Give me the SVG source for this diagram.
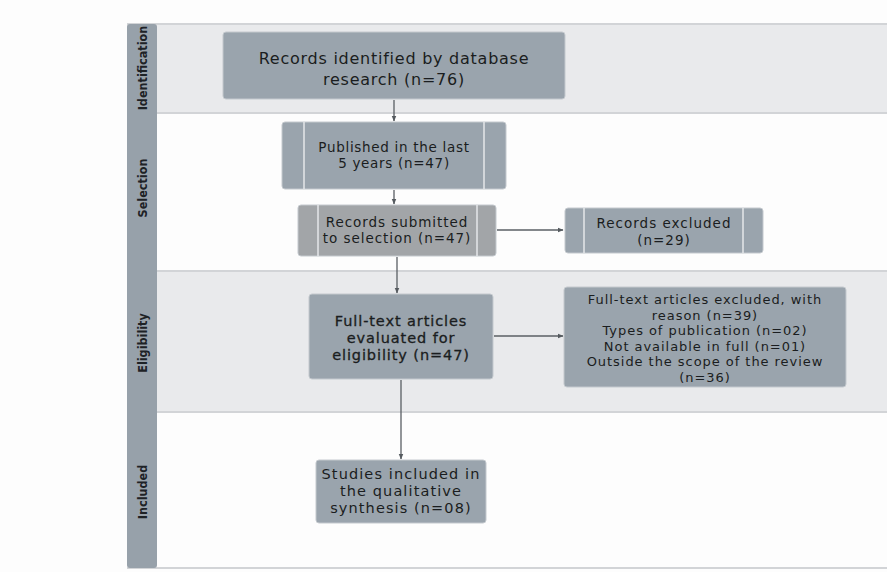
<svg xmlns="http://www.w3.org/2000/svg" width="887" height="572" viewBox="0 0 887 572">
<defs>
<marker id="ah" viewBox="0 0 10 10" refX="9" refY="5" markerWidth="6" markerHeight="6" orient="auto" markerUnits="userSpaceOnUse">
<path d="M0,1 L10,5 L0,9 z" fill="#555a5f"/>
</marker>
<style>
.lane-a{fill:#e9eaec}
.lane-b{fill:#fdfdfd}
.sep{stroke:#d2d4d7;stroke-width:2}
.lbl{font-family:"DejaVu Sans",sans-serif;font-weight:bold;font-stretch:condensed;font-size:12.5px;fill:#1e2226;text-anchor:middle}
.box{fill:#9aa4ad;stroke:#c4c9ce;stroke-width:1}
.boxg{fill:#a2a5a8;stroke:#c4c9ce;stroke-width:1}
.inner{stroke:#e4e7ea;stroke-width:1.5}
.t{font-family:"DejaVu Sans","Liberation Sans",sans-serif;fill:#1a1d20;text-anchor:middle}
.con{stroke:#5a5f64;stroke-width:1.3;fill:none;marker-end:url(#ah)}
</style>
</defs>
<rect width="887" height="572" fill="#fdfdfd"/>
<g id="lanes">
<rect x="127" y="24" width="760" height="89" class="lane-a"/>
<rect x="127" y="113" width="760" height="158" class="lane-b"/>
<rect x="127" y="271" width="760" height="141" class="lane-a"/>
<rect x="127" y="412" width="760" height="156" class="lane-b"/>
<line x1="127" y1="24" x2="887" y2="24" class="sep"/>
<line x1="157" y1="113" x2="887" y2="113" class="sep"/>
<line x1="157" y1="271" x2="887" y2="271" class="sep"/>
<line x1="157" y1="412" x2="887" y2="412" class="sep"/>
<line x1="127" y1="568" x2="887" y2="568" class="sep"/>
<rect x="127" y="24" width="30" height="544" rx="3" fill="#97a1aa"/>
<text class="lbl" transform="translate(146.5,68) rotate(-90)">Identification</text>
<text class="lbl" transform="translate(146.5,188) rotate(-90)">Selection</text>
<text class="lbl" transform="translate(146.5,343) rotate(-90)">Eligibility</text>
<text class="lbl" transform="translate(146.5,492) rotate(-90)">Included</text>
</g>
<g id="connectors">
<line x1="394" y1="100" x2="394" y2="121" class="con"/>
<line x1="394" y1="190" x2="394" y2="204" class="con"/>
<line x1="397" y1="257" x2="397" y2="293" class="con"/>
<line x1="497" y1="230" x2="563" y2="230" class="con"/>
<line x1="494" y1="336" x2="563" y2="336" class="con"/>
<line x1="401" y1="380" x2="401" y2="459" class="con"/>
</g>
<g id="n1">
<rect x="223" y="32" width="342" height="67" rx="3" class="box"/>
<text class="t" x="394" y="64" font-size="16" letter-spacing="0.75">Records identified by database</text>
<text class="t" x="394" y="85" font-size="16" letter-spacing="0.75">research (n=76)</text>
</g>
<g id="n2">
<rect x="282" y="122" width="224" height="67" rx="3" class="box"/>
<line x1="304" y1="122" x2="304" y2="189" class="inner"/>
<line x1="484" y1="122" x2="484" y2="189" class="inner"/>
<text class="t" x="394" y="152" font-size="13.5" letter-spacing="0.7">Published in the last</text>
<text class="t" x="394" y="168" font-size="13.5" letter-spacing="0.7">5 years (n=47)</text>
</g>
<g id="n3">
<rect x="298" y="205" width="198" height="51" rx="3" class="boxg"/>
<line x1="318" y1="205" x2="318" y2="256" class="inner"/>
<line x1="477" y1="205" x2="477" y2="256" class="inner"/>
<text class="t" x="397" y="227" font-size="13.5" letter-spacing="0.95">Records submitted</text>
<text class="t" x="397" y="243" font-size="13.5" letter-spacing="0.95">to selection (n=47)</text>
</g>
<g id="n4">
<rect x="565" y="208" width="198" height="45" rx="3" class="box"/>
<line x1="584" y1="208" x2="584" y2="253" class="inner"/>
<line x1="743" y1="208" x2="743" y2="253" class="inner"/>
<text class="t" x="664" y="228" font-size="13.5" letter-spacing="1">Records excluded</text>
<text class="t" x="664" y="245" font-size="13.5" letter-spacing="1">(n=29)</text>
</g>
<g id="n5">
<rect x="309" y="294" width="184" height="85" rx="3" class="box"/>
<text class="t" x="401" y="326" font-size="14.5" letter-spacing="0.9" stroke="#1a1d20" stroke-width="0.3">Full-text articles</text>
<text class="t" x="401" y="343" font-size="14.5" letter-spacing="0.9" stroke="#1a1d20" stroke-width="0.3">evaluated for</text>
<text class="t" x="401" y="360" font-size="14.5" letter-spacing="0.9" stroke="#1a1d20" stroke-width="0.3">eligibility (n=47)</text>
</g>
<g id="n6">
<rect x="564" y="287" width="282" height="100" rx="3" class="box"/>
<text class="t" x="705" y="304" font-size="13" letter-spacing="0.95">Full-text articles excluded, with</text>
<text class="t" x="705" y="319.6" font-size="13" letter-spacing="0.95">reason (n=39)</text>
<text class="t" x="705" y="335.2" font-size="13" letter-spacing="0.95">Types of publication (n=02)</text>
<text class="t" x="705" y="350.8" font-size="13" letter-spacing="0.95">Not available in full (n=01)</text>
<text class="t" x="705" y="366.4" font-size="13" letter-spacing="0.95">Outside the scope of the review</text>
<text class="t" x="705" y="382" font-size="13" letter-spacing="0.95">(n=36)</text>
</g>
<g id="n7">
<rect x="316" y="460" width="170" height="63" rx="3" class="box"/>
<text class="t" x="401" y="479" font-size="14.5" letter-spacing="1.1">Studies included in</text>
<text class="t" x="401" y="496" font-size="14.5" letter-spacing="1.1">the qualitative</text>
<text class="t" x="401" y="513" font-size="14.5" letter-spacing="1.1">synthesis (n=08)</text>
</g>
</svg>
